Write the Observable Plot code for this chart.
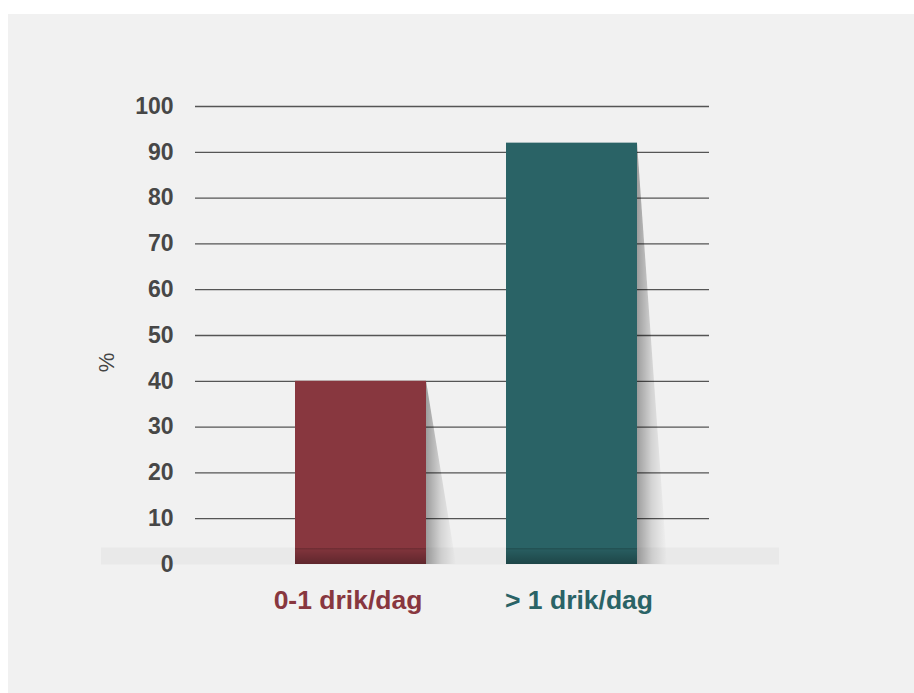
<!DOCTYPE html>
<html>
<head>
<meta charset="utf-8">
<script src="https://cdn.jsdelivr.net/npm/d3@7"></script>
<script src="https://cdn.jsdelivr.net/npm/@observablehq/plot@0.6"></script>
<style>
  html, body { margin: 0; padding: 0; background: #ffffff; }
  #panel { position: absolute; left: 8px; top: 14px; width: 906px; height: 679px; background: #f1f1f1; }
  svg { font-family: "Liberation Sans", Arial, Helvetica, sans-serif; }
</style>
</head>
<body>
<div id="panel"></div>
<script>
const categories = ["0-1 drik/dag", "> 1 drik/dag"];
const values = [40, 92];
const colors = ["#88373f", "#2a6366"];
const yTicks = [0, 10, 20, 30, 40, 50, 60, 70, 80, 90, 100];
const gridTicks = [10, 20, 30, 40, 50, 60, 70, 80, 90, 100];
const yLabel = "%";

const data = categories.map((c, i) => ({category: c, value: values[i], color: colors[i]}));

const shadowRender = (index, scales, values, dimensions, context, next) => {
  const g = next(index, scales, values, dimensions, context);
  g.querySelectorAll("rect").forEach(r => {
    const x = +r.getAttribute("x"), w = +r.getAttribute("width");
    r.setAttribute("x", x + w);
    r.setAttribute("width", 30);
    r.setAttribute("fill", "url(#shadowGrad)");
    r.style.clipPath = "polygon(0 0, 0 100%, 100% 100%)";
  });
  return g;
};

const baseRender = (index, scales, values, dimensions, context, next) => {
  const g = next(index, scales, values, dimensions, context);
  g.querySelectorAll("rect").forEach(r => {
    const y = +r.getAttribute("y"), h = +r.getAttribute("height");
    r.setAttribute("y", y + h - 16);
    r.setAttribute("height", 16);
    r.setAttribute("fill", "url(#baseGrad)");
  });
  return g;
};

const chart = Plot.plot({
  width: 906,
  height: 679,
  marginTop: 92,
  marginBottom: 129,
  marginLeft: 187,
  marginRight: 205,
  style: {background: "transparent", fontFamily: "Liberation Sans, Arial, sans-serif"},
  x: {domain: categories, paddingInner: 0.379, paddingOuter: 0.4075, align: 0.58, axis: null},
  y: {domain: [0, 100], axis: null},
  marks: [
    Plot.ruleY(gridTicks, {stroke: "#555", strokeWidth: 1.3}),
    Plot.ruleY([0], {stroke: "#e9e9e9", strokeWidth: 17, dy: -8.5, insetLeft: -94, insetRight: -70}),
    Plot.barY(data, {x: "category", y: "value", fill: "#000", render: shadowRender}),
    Plot.barY(data, {x: "category", y: "value", fill: "color"}),
    Plot.barY(data, {x: "category", y: "value", fill: "#000", render: baseRender}),
    Plot.text(yTicks, {frameAnchor: "left", y: d => d, text: d => String(d), textAnchor: "end", dx: -22, fontSize: 23, fontWeight: "bold", fill: "#474747"}),
    Plot.text(data.slice(0, 1), {x: "category", text: "category", frameAnchor: "bottom", dy: 44, dx: -13, fill: "color", fontSize: 26.5, fontWeight: "bold"}),
    Plot.text(data.slice(1, 2), {x: "category", text: "category", frameAnchor: "bottom", dy: 44, dx: 7, fill: "color", fontSize: 26.5, fontWeight: "bold"}),
    Plot.text([yLabel], {frameAnchor: "left", dx: -89, rotate: -90, fontSize: 22, fill: "#444", y: 42})
  ]
});

const defs = document.createElementNS("http://www.w3.org/2000/svg", "defs");
defs.innerHTML = '<linearGradient id="shadowGrad" x1="0" x2="1" y1="0" y2="0"><stop offset="0" stop-color="#000" stop-opacity="0.35"/><stop offset="0.5" stop-color="#000" stop-opacity="0.12"/><stop offset="1" stop-color="#000" stop-opacity="0"/></linearGradient>' +
  '<linearGradient id="baseGrad" x1="0" x2="0" y1="0" y2="1"><stop offset="0" stop-color="#000" stop-opacity="0.2"/><stop offset="0.15" stop-color="#000" stop-opacity="0.08"/><stop offset="1" stop-color="#000" stop-opacity="0.3"/></linearGradient>';
chart.insertBefore(defs, chart.firstChild);
document.getElementById("panel").appendChild(chart);
</script>
</body>
</html>
